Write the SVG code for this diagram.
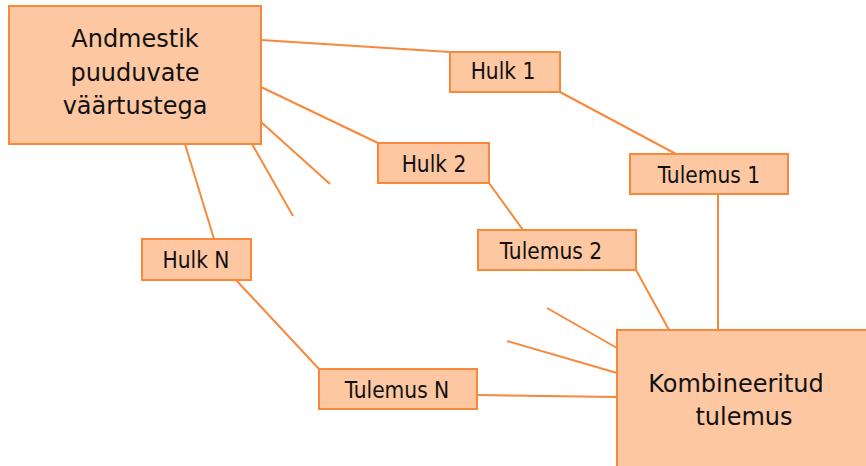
<svg xmlns="http://www.w3.org/2000/svg" width="866" height="466" viewBox="0 0 866 466">
<style>
.box{fill:#FDC8A1;stroke:#F8883A;stroke-width:2}
.ln{stroke:#F8883A;stroke-width:2;fill:none}
text{font-family:"DejaVu Sans",sans-serif;fill:#111;text-anchor:middle}
.big{font-size:24px}
.sm{font-family:"DejaVu Sans Condensed","DejaVu Sans",sans-serif;font-stretch:condensed;font-size:22.5px}
</style>
<rect width="866" height="466" fill="#fff"/>
<g id="connectors">
<line class="ln" x1="261" y1="40" x2="450" y2="52"/>
<line class="ln" x1="261" y1="87" x2="378" y2="143"/>
<line class="ln" x1="261" y1="122" x2="330" y2="184"/>
<line class="ln" x1="252" y1="144" x2="293" y2="216"/>
<line class="ln" x1="185" y1="144" x2="214" y2="239"/>
<line class="ln" x1="560" y1="92" x2="676" y2="154"/>
<line class="ln" x1="489" y1="183" x2="523" y2="230"/>
<line class="ln" x1="236" y1="280" x2="319" y2="369"/>
<line class="ln" x1="718" y1="194" x2="718" y2="330"/>
<line class="ln" x1="636" y1="270" x2="669" y2="330"/>
<line class="ln" x1="547" y1="308" x2="617" y2="348"/>
<line class="ln" x1="507" y1="341" x2="617" y2="373"/>
<line class="ln" x1="477" y1="395" x2="617" y2="397"/>
</g>
<g id="andmestik">
<rect class="box" x="9" y="6" width="252" height="138"/>
<text class="big" x="135" y="47">Andmestik</text>
<text class="big" x="135" y="81">puuduvate</text>
<text class="big" x="135" y="114">väärtustega</text>
</g>
<g id="hulk1">
<rect class="box" x="450" y="52" width="110" height="40"/>
<text class="sm" x="503" y="79">Hulk 1</text>
</g>
<g id="hulk2">
<rect class="box" x="378" y="143" width="111" height="40"/>
<text class="sm" x="434" y="172">Hulk 2</text>
</g>
<g id="hulkN">
<rect class="box" x="142" y="239" width="109" height="41"/>
<text class="sm" x="196" y="268">Hulk N</text>
</g>
<g id="tulemus1">
<rect class="box" x="630" y="154" width="158" height="40"/>
<text class="sm" x="709" y="183">Tulemus 1</text>
</g>
<g id="tulemus2">
<rect class="box" x="478" y="230" width="158" height="40"/>
<text class="sm" x="551" y="259">Tulemus 2</text>
</g>
<g id="tulemusN">
<rect class="box" x="319" y="369" width="158" height="40"/>
<text class="sm" x="397" y="398">Tulemus N</text>
</g>
<g id="kombineeritud">
<rect class="box" x="617" y="330" width="260" height="150"/>
<text class="big" x="736" y="392">Kombineeritud</text>
<text class="big" x="744" y="425">tulemus</text>
</g>
</svg>
